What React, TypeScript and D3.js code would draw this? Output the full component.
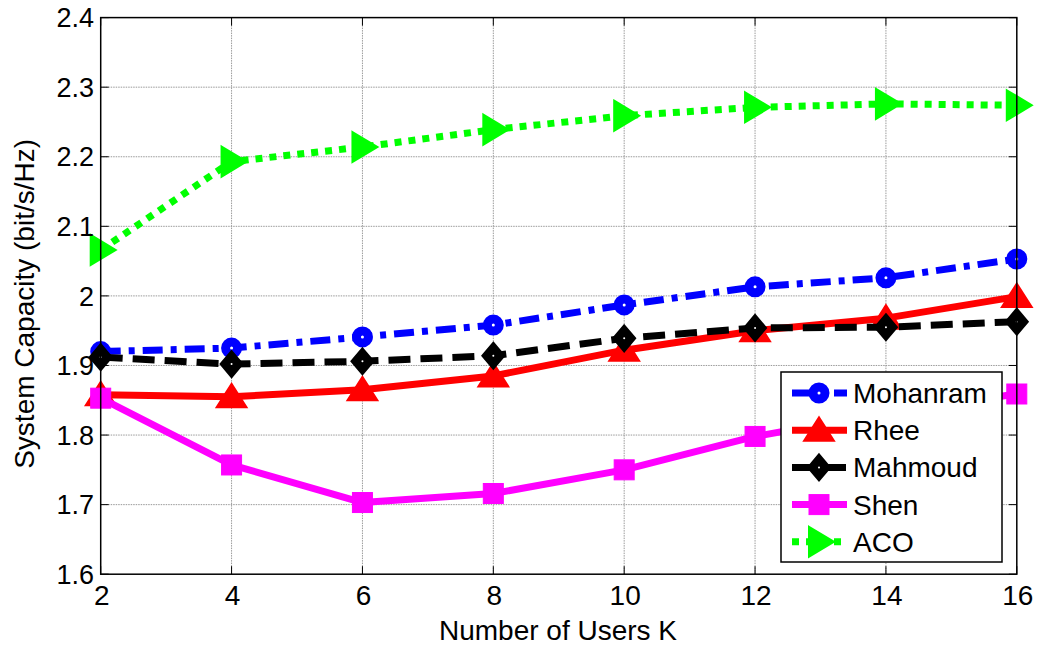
import React from "react";
import * as d3 from "d3";

const users = [2, 4, 6, 8, 10, 12, 14, 16];
const mohanram = [1.92, 1.925, 1.941, 1.958, 1.987, 2.013, 2.026, 2.053];
const rhee = [1.858, 1.855, 1.865, 1.885, 1.922, 1.95, 1.968, 1.999];
const mahmoud = [1.912, 1.902, 1.906, 1.914, 1.939, 1.954, 1.955, 1.963];
const shen = [1.853, 1.757, 1.703, 1.716, 1.75, 1.798, 1.832, 1.859];
const aco = [2.066, 2.193, 2.214, 2.239, 2.259, 2.271, 2.276, 2.274];

const xTicks = [2, 4, 6, 8, 10, 12, 14, 16];
const yTicks = [1.6, 1.7, 1.8, 1.9, 2.0, 2.1, 2.2, 2.3, 2.4];

type Marker = "circle" | "triUp" | "diamond" | "square" | "triRight";

const seriesList: {
  name: string;
  values: number[];
  color: string;
  dash: string | null;
  marker: Marker;
}[] = [
  { name: "Mohanram", values: mohanram, color: "#0000ff", dash: "20,8,6,8", marker: "circle" },
  { name: "Rhee", values: rhee, color: "#ff0000", dash: null, marker: "triUp" },
  { name: "Mahmoud", values: mahmoud, color: "#000000", dash: "22,10", marker: "diamond" },
  { name: "Shen", values: shen, color: "#ff00ff", dash: null, marker: "square" },
  { name: "ACO", values: aco, color: "#00ff00", dash: "7,7", marker: "triRight" },
];

const W = 1039;
const H = 645;
const left = 100.7;
const right = 1016.8;
const top = 17.6;
const bottom = 574.2;
const FONT = "'Liberation Sans', Arial, sans-serif";

function MarkerShape({ kind, x, y, color }: { kind: Marker; x: number; y: number; color: string }) {
  switch (kind) {
    case "circle":
      return <circle cx={x} cy={y} r={6} fill="#fff" stroke={color} strokeWidth={9} />;
    case "triUp":
      return (
        <path
          d={`M${x},${y - 12} L${x + 14},${y + 10} L${x - 14},${y + 10} Z`}
          fill={color}
          stroke={color}
          strokeWidth={3}
          strokeLinejoin="miter"
        />
      );
    case "diamond":
      return (
        <g>
          <path
            d={`M${x},${y - 13} L${x + 11},${y} L${x},${y + 13} L${x - 11},${y} Z`}
            fill={color}
            stroke={color}
            strokeWidth={2}
          />
          <circle cx={x} cy={y} r={1} fill="#fff" />
        </g>
      );
    case "square":
      return <rect x={x - 10} y={y - 10} width={20} height={20} fill={color} stroke={color} strokeWidth={1} />;
    case "triRight":
      return (
        <path
          d={`M${x - 10},${y - 15} L${x + 15},${y} L${x - 10},${y + 15} Z`}
          fill={color}
          stroke={color}
          strokeWidth={2}
        />
      );
  }
}

export default function App() {
  const x = d3.scaleLinear().domain([2, 16]).range([left, right]);
  const y = d3.scaleLinear().domain([1.6, 2.4]).range([bottom, top]);
  const line = d3
    .line<[number, number]>()
    .x((d) => x(d[0]))
    .y((d) => y(d[1]));

  const legendX = 781;
  const legendY = 372;
  const legendW = 221;
  const legendH = 190;
  const rowGap = 37.2;

  return (
    <svg
      width={W}
      height={H}
      viewBox={`0 0 ${W} ${H}`}
      style={{ position: "absolute", left: 0, top: 0, background: "#fff" }}
      fontFamily={FONT}
    >
      <rect x={0} y={0} width={W} height={H} fill="#fff" />
      {/* grid */}
      <g stroke="#9a9a9a" strokeWidth={1} strokeDasharray="1.5,1">
        {xTicks.slice(1, -1).map((t) => (
          <line key={"gx" + t} x1={x(t)} x2={x(t)} y1={top} y2={bottom} />
        ))}
        {yTicks.slice(1, -1).map((t) => (
          <line key={"gy" + t} x1={left} x2={right} y1={y(t)} y2={y(t)} />
        ))}
      </g>
      {/* ticks */}
      <g stroke="#000" strokeWidth={1}>
        {xTicks.map((t) => (
          <g key={"tx" + t}>
            <line x1={x(t)} x2={x(t)} y1={bottom} y2={bottom - 8} />
            <line x1={x(t)} x2={x(t)} y1={top} y2={top + 8} />
          </g>
        ))}
        {yTicks.map((t) => (
          <g key={"ty" + t}>
            <line x1={left} x2={left + 8} y1={y(t)} y2={y(t)} />
            <line x1={right} x2={right - 8} y1={y(t)} y2={y(t)} />
          </g>
        ))}
      </g>
      {/* series */}
      {seriesList.map((s) => {
        const pts = users.map((u, i) => [u, s.values[i]] as [number, number]);
        return (
          <g key={s.name}>
            <path
              d={line(pts) ?? ""}
              fill="none"
              stroke={s.color}
              strokeWidth={7}
              strokeDasharray={s.dash ?? undefined}
              strokeLinejoin="round"
            />
            {pts.map((p, i) => (
              <MarkerShape key={i} kind={s.marker} x={x(p[0])} y={y(p[1])} color={s.color} />
            ))}
          </g>
        );
      })}
      {/* axes box */}
      <rect x={left} y={top} width={right - left} height={bottom - top} fill="none" stroke="#000" strokeWidth={1.5} />
      {/* tick labels */}
      <g fontSize={27} fill="#000">
        {yTicks.map((t) => (
          <text key={"ly" + t} x={94} y={y(t)} dy="0.36em" textAnchor="end">
            {d3.format("")(+t.toFixed(1))}
          </text>
        ))}
      </g>
      <g fontSize={28} fill="#000">
        {xTicks.map((t) => (
          <text key={"lx" + t} x={x(t) + 1} y={605} textAnchor="middle">
            {t}
          </text>
        ))}
      </g>
      <text x={558} y={640} fontSize={28} textAnchor="middle" fill="#000">
        Number of Users K
      </text>
      <text
        transform={`translate(34, ${(top + bottom) / 2 + 8}) rotate(-90)`}
        fontSize={28}
        textAnchor="middle"
        fill="#000"
      >
        System Capacity (bit/s/Hz)
      </text>
      {/* legend */}
      <rect x={legendX} y={legendY} width={legendW} height={legendH} fill="#fff" stroke="#000" strokeWidth={1.5} />
      {seriesList.map((s, i) => {
        const cy = legendY + 21 + i * rowGap;
        return (
          <g key={"lg" + s.name}>
            <line
              x1={792}
              x2={847}
              y1={cy}
              y2={cy}
              stroke={s.color}
              strokeWidth={7}
              strokeDasharray={s.dash ?? undefined}
            />
            <MarkerShape kind={s.marker} x={819} y={cy} color={s.color} />
            <text x={853} y={cy + 10} fontSize={28} fill="#000">
              {s.name}
            </text>
          </g>
        );
      })}
    </svg>
  );
}
